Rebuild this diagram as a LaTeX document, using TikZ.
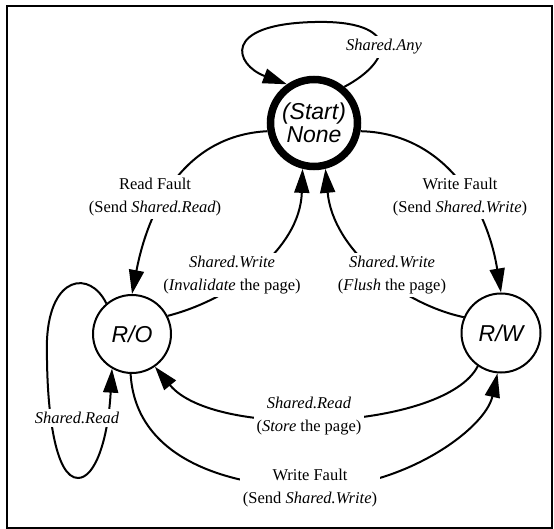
\documentclass[tikz,border=0pt]{standalone}
\usepackage{fontspec}
\setmainfont{Liberation Serif}
\newfontfamily\hv{Liberation Sans}
\usetikzlibrary{arrows.meta}
\begin{document}
\begin{tikzpicture}[x=1pt,y=-1pt,
  stnode/.style={circle, draw, line width=2pt, minimum size=78pt, inner sep=0pt,
    align=center, font=\hv\itshape\fontsize{23}{23}\selectfont},
  conn/.style={line width=2pt},
  arr/.style={conn, -{Triangle[length=24pt,width=15pt]}},
  lbl/.style={fill=white, inner sep=3pt, align=center, font=\fontsize{16.5}{23}\selectfont}]
\useasboundingbox (0,0) rectangle (554,529);
\draw[line width=1.5pt] (7,6) rectangle (552,528);

\node[stnode, line width=7.5pt, minimum size=87pt] (none) at (314,123) {(Start)\\None};
\node[stnode] (ro) at (132,334) {R/O};
\node[stnode, minimum size=79pt] (rw) at (501,333) {R/W};

% Shared.Any self loop
\draw[arr] (none.50) .. controls (395,60) and (400,20) .. (315,22)
  .. controls (220,24) and (235,65) .. (none.125);
\node[lbl] (lany) at (384,47) {\itshape Shared.Any};

% Read Fault: None -> R/O
\draw[arr] (none.190) .. controls (190,135) and (150,200) .. (ro.north);
\node[lbl] (lrf) at (155,197) {Read Fault\\(Send \textit{Shared.Read})};

% Write Fault: None -> R/W
\draw[arr] (none.350) .. controls (440,133) and (486,200) .. (rw.north);
\node[lbl] (lwf) at (460,197) {Write Fault\\(Send \textit{Shared.Write})};

% Invalidate: R/O -> None
\draw[arr] (ro.27) .. controls (230,300) and (300,250) .. (none.256);
\node[lbl] (linv) at (232,275) {\textit{Shared.Write}\\(\textit{Invalidate} the page)};

% Flush: R/W -> None
\draw[arr] (rw.157) .. controls (402,304) and (333,250) .. (none.284);
\node[lbl] (lfl) at (392,275) {\textit{Shared.Write}\\(\textit{Flush} the page)};

% Store: R/W -> R/O
\draw[arr] (rw.235) .. controls (445,430) and (215,440) .. (ro.305);
\node[lbl] (lst) at (309,416) {\textit{Shared.Read}\\(\textit{Store} the page)};

% Write Fault: R/O -> R/W
\draw[arr] (ro.268) .. controls (135,450) and (210,485) .. (310,488)
  .. controls (400,490) and (485,430) .. (rw.265);
\node[lbl] (lwf2) at (310,488) {Write Fault\\(Send \textit{Shared.Write})};

% Shared.Read self loop on R/O
\draw[arr] (ro.130) .. controls (90,270) and (50,275) .. (47,340)
  .. controls (46,410) and (55,478) .. (78,478)
  .. controls (95,478) and (108,440) .. (ro.240);
\node[lbl] (lsr) at (77,418) {\itshape Shared.Read};
\end{tikzpicture}
\end{document}
